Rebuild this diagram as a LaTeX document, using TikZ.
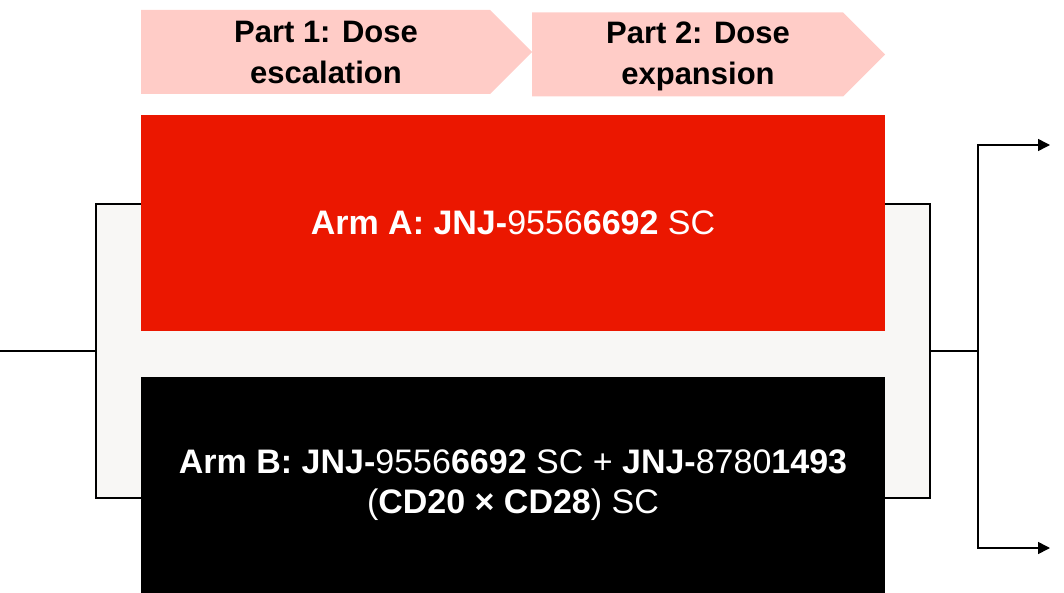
\documentclass[tikz,border=0pt]{standalone}
\usepackage{fontspec}
\setmainfont{Liberation Sans}
\usepackage{xcolor}
\usetikzlibrary{arrows.meta,positioning,shapes.symbols}
\definecolor{jjred}{HTML}{EB1700}
\definecolor{chevpink}{HTML}{FFCCC7}
\definecolor{panelgrey}{HTML}{F8F7F5}

\begin{document}
\begin{tikzpicture}[x=1pt,y=-1pt,
chev/.style={signal,signal to=east,signal pointer angle=90,fill=chevpink,draw=none,inner sep=0pt,minimum height=84pt},
chevtext/.style={align=center,font=\fontsize{31}{41}\selectfont\bfseries},
armbox/.style={draw=none,inner sep=0pt,minimum width=744pt,minimum height=216pt,text=white,align=center,font=\fontsize{34}{40}\selectfont},
arrow/.style={-{Triangle[length=12pt,width=12pt]},line width=1.5pt}
]
\useasboundingbox (0,0) rectangle (1064,593);
% phases
\node[chev,minimum width=391pt] (part1) at (315.5,52) {};
\node[chev,minimum width=353pt] (part2) at (687.5,54.5) {};
\node[chevtext] (part1txt) at (326,52) {Part 1: Dose\\escalation};
\node[chevtext] (part2txt) at (698,56) {Part 2: Dose\\expansion};
% arms
\node[draw=black,line width=1.5pt,fill=panelgrey,minimum width=834pt,minimum height=294pt,inner sep=0pt] (panel) at (513,351) {};
\node[armbox,fill=jjred] (armA) at (513,223) {\textbf{Arm A: JNJ-}9556\textbf{6692} SC};
\node[armbox,fill=black] (armB) at (513,485) {\textbf{Arm B: JNJ-}9556\textbf{6692} SC + \textbf{JNJ-}8780\textbf{1493}\\(\textbf{CD20 × CD28}) SC};
\coordinate (start) at (0,351);
\coordinate (split) at (978,351);
\coordinate (out1) at (1050,145);
\coordinate (out2) at (1050,548);
\draw[line width=1.5pt] (start) -- (panel.west);
\draw[line width=1.5pt] (panel.east) -- (split);
\draw[arrow] (split) |- (out1);
\draw[arrow] (split) |- (out2);
\end{tikzpicture}
\end{document}
